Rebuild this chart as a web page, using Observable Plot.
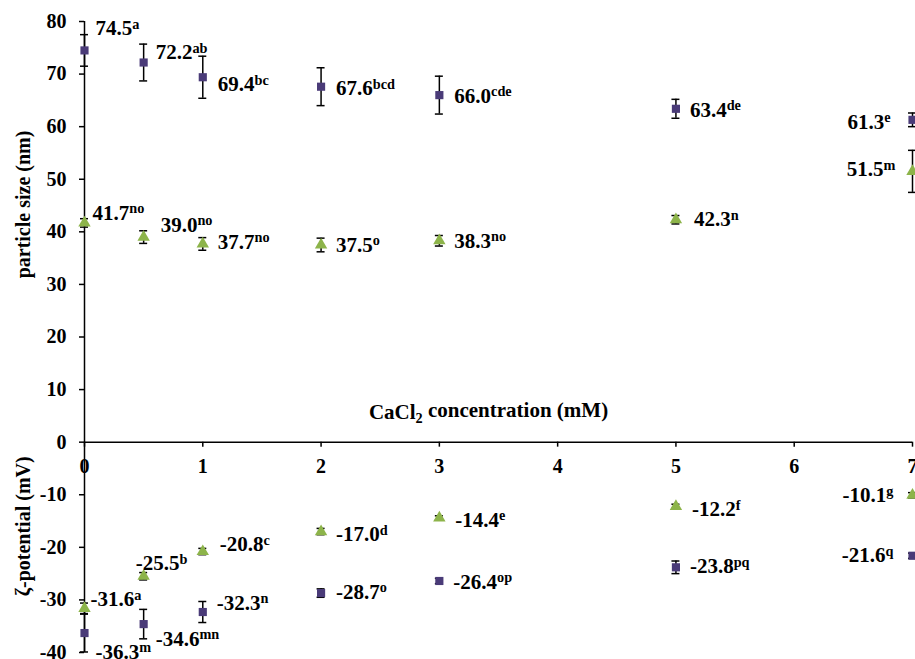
<!DOCTYPE html>
<html>
<head>
<meta charset="utf-8">
<script src="https://cdn.jsdelivr.net/npm/d3@7"></script>
<script src="https://cdn.jsdelivr.net/npm/@observablehq/plot@0.6"></script>
<style>
  html, body { margin: 0; padding: 0; background: white; overflow: hidden; }
  #chart svg { overflow: hidden; }
  #chart svg, #chart svg text, #chart svg tspan { font-family: "Liberation Serif", "DejaVu Serif", "Times New Roman", Times, serif !important; font-weight: bold !important; }
</style>
</head>
<body>
<div id="chart"></div>
<script>
// ---- data ----
const conc = [0, 0.5, 1, 2, 3, 5, 7];
const xTicks = [0, 1, 2, 3, 4, 5, 6, 7];
const yTicks = [-40, -30, -20, -10, 0, 10, 20, 30, 40, 50, 60, 70, 80];

const sizePurple = [74.5, 72.2, 69.4, 67.6, 66.0, 63.4, 61.3];
const sizePurpleErr = [3.0, 3.5, 4.0, 3.6, 3.6, 1.8, 1.3];
const sizePurpleLetters = ["a", "ab", "bc", "bcd", "cde", "de", "e"];

const sizeGreen = [41.7, 39.0, 37.7, 37.5, 38.3, 42.3, 51.5];
const sizeGreenErr = [0.8, 1.2, 1.2, 1.3, 1.0, 0.8, 4.0];
const sizeGreenLetters = ["no", "no", "no", "o", "no", "n", "m"];

const zetaPurple = [-36.3, -34.6, -32.3, -28.7, -26.4, -23.8, -21.6];
const zetaPurpleErr = [3.6, 2.8, 2.0, 0.8, 0.5, 1.2, 0.5];
const zetaPurpleLetters = ["m", "mn", "n", "o", "op", "pq", "q"];

const zetaGreen = [-31.6, -25.5, -20.8, -17.0, -14.4, -12.2, -10.1];
const zetaGreenErr = [1.0, 0.7, 0.6, 0.6, 0.4, 0.4, 0.5];
const zetaGreenLetters = ["a", "b", "c", "d", "e", "f", "g"];

const xTitle = "CaCl_2 concentration (mM)";
const yTitleTop = "particle size (nm)";
const yTitleBottom = "ζ-potential (mV)";

// ---- layout (label nudges in px: dx, dy, anchor) ----
const nudgePS = [[11, -22, "start"], [12, -10, "start"], [15, 7, "start"], [15, 2, "start"], [15, 1, "start"], [14, 1, "start"], [-22, 2, "end"]];
const nudgeGS = [[8, -10, "start"], [17, -12, "start"], [15, -2, "start"], [15, 0, "start"], [15, 0, "start"], [18, 0, "start"], [-17, -2, "end"]];
const nudgePZ = [[11, 19, "start"], [12, 15, "start"], [14, -9, "start"], [15, -1, "start"], [14, 1, "start"], [14, -1, "start"], [-19, 0, "end"]];
const nudgeGZ = [[6, -9, "start"], [-8, -13, "start"], [17, -7, "start"], [15, 3, "start"], [16, 2, "start"], [16, 3, "start"], [-19, 0, "end"]];

const purple = "#4a3b78";
const green = "#8db44a";

function build(vals, errs, letters) {
  return conc.map((x, i) => ({x, y: vals[i], e: errs[i], label: vals[i].toFixed(1) + "^" + letters[i]}));
}
const PS = build(sizePurple, sizePurpleErr, sizePurpleLetters);
const GS = build(sizeGreen, sizeGreenErr, sizeGreenLetters);
const PZ = build(zetaPurple, zetaPurpleErr, zetaPurpleLetters);
const GZ = build(zetaGreen, zetaGreenErr, zetaGreenLetters);

function errMarks(data) {
  return [
    Plot.ruleX(data, {x: "x", y1: d => d.y - d.e, y2: d => d.y + d.e, stroke: "black", strokeWidth: 1.5}),
    Plot.ruleY(data, {y: d => d.y - d.e, x1: "x", x2: "x", insetLeft: -4, insetRight: -4, stroke: "black", strokeWidth: 1.5}),
    Plot.ruleY(data, {y: d => d.y + d.e, x1: "x", x2: "x", insetLeft: -4, insetRight: -4, stroke: "black", strokeWidth: 1.5})
  ];
}
function labelMarks(data, nudge) {
  return data.map((d, i) => Plot.text([d], {
    x: "x", y: "y", text: "label",
    dx: nudge[i][0], dy: nudge[i][1],
    textAnchor: nudge[i][2],
    fontSize: 21
  }));
}

const chart = Plot.plot({
  width: 915,
  height: 659,
  marginLeft: 84,
  marginRight: 3,
  marginTop: 21,
  marginBottom: 7,
  style: {fontWeight: "bold", fontSize: "20px", color: "black", background: "white"},
  x: {domain: [0, 7]},
  y: {domain: [-40, 80]},
  marks: [
    Plot.axisY(yTicks, {tickSize: 5, tickPadding: 13, fontSize: 20, tickFormat: d => String(d), label: null, strokeWidth: 1.5}),
    Plot.axisX([], {label: null}),
    Plot.ruleX([0], {stroke: "black", strokeWidth: 1.5}),
    Plot.ruleY([0], {stroke: "black", strokeWidth: 1.5}),
    Plot.ruleX(xTicks, {x: d => d, y1: 0, y2: 0, insetBottom: -5, stroke: "black", strokeWidth: 1.5}),
    Plot.text(xTicks, {x: d => d, y: 0, dy: 24, text: d => String(d), fontSize: 20}),
    Plot.text([xTitle], {y: () => 0, dy: -30, dx: -10, text: d => d, fontSize: 21}),
    Plot.text([yTitleTop], {frameAnchor: "left", textAnchor: "middle", lineAnchor: "middle", y: () => 45.2, dx: -61, rotate: -90, text: d => d, fontSize: 20}),
    Plot.text([yTitleBottom], {frameAnchor: "left", textAnchor: "middle", lineAnchor: "middle", y: () => -16, dx: -61, rotate: -90, text: d => d, fontSize: 20}),
    ...errMarks(PS), ...errMarks(GS), ...errMarks(PZ), ...errMarks(GZ),
    Plot.dot(PS, {x: "x", y: "y", symbol: "square", r: 4.6, fill: purple}),
    Plot.dot(PZ, {x: "x", y: "y", symbol: "square", r: 4.6, fill: purple}),
    Plot.dot(GS, {x: "x", y: "y", symbol: "triangle", r: 4.6, fill: green}),
    Plot.dot(GZ, {x: "x", y: "y", symbol: "triangle", r: 4.6, fill: green}),
    ...labelMarks(PS, nudgePS), ...labelMarks(GS, nudgeGS),
    ...labelMarks(PZ, nudgePZ), ...labelMarks(GZ, nudgeGZ)
  ]
});

// superscript / subscript handling
const NS = "http://www.w3.org/2000/svg";
chart.querySelectorAll("text").forEach(t => {
  const s = t.textContent;
  if (s.includes("^")) {
    const [main, sup] = s.split("^");
    t.textContent = "";
    const a = document.createElementNS(NS, "tspan"); a.textContent = main; t.appendChild(a);
    const b = document.createElementNS(NS, "tspan"); b.textContent = sup;
    b.setAttribute("dy", "-0.45em"); b.setAttribute("font-size", "0.68em"); t.appendChild(b);
  } else if (s.includes("_")) {
    const idx = s.indexOf("_");
    const pre = s.slice(0, idx), sub = s[idx + 1], post = s.slice(idx + 2);
    t.textContent = "";
    const a = document.createElementNS(NS, "tspan"); a.textContent = pre; t.appendChild(a);
    const b = document.createElementNS(NS, "tspan"); b.textContent = sub;
    b.setAttribute("dy", "0.3em"); b.setAttribute("font-size", "0.68em"); t.appendChild(b);
    const c = document.createElementNS(NS, "tspan"); c.textContent = post;
    c.setAttribute("dy", "-0.3em"); t.appendChild(c);
  }
});
document.getElementById("chart").appendChild(chart);
</script>
</body>
</html>
